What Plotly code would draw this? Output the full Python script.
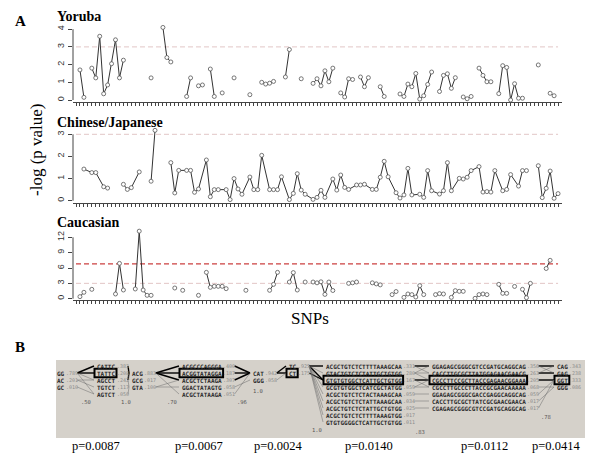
import plotly.graph_objects as go

W, H = 600, 457

# ---------------- data (panel A) ----------------
snp_ticks = list(range(0, 123))

yor_snp = [1, 2, 4, 5, 6, 7, 8, 9, 10, 11, 12, 19, 22, 23, 24, 28, 29, 31, 32, 34, 35, 37, 40, 44,
           47, 48, 49, 50, 53, 54, 57, 60, 61, 62, 63, 64, 65, 67, 68, 69, 70, 72, 73, 74, 77, 78,
           82, 83, 84, 85, 86, 87, 88, 89, 90, 92, 93, 94, 95, 96, 98, 99, 100, 102, 103, 104, 105,
           107, 108, 109, 110, 111, 112, 113, 117, 120, 121]
yor_val = [1.7, 0.15, 1.8, 1.25, 3.6, 0.35, 0.85, 2.05, 3.4, 1.25, 2.25, 1.25, 4.1, 2.4, 2.15, 0.2, 1.25,
           0.8, 0.85, 1.75, 0.2, 0.4, 1.25, 0.3, 1.0, 0.9, 0.95, 1.05, 1.3, 2.85, 1.2, 0.94, 1.2, 0.8,
           1.65, 1.03, 1.8, 0.4, 0.17, 1.2, 1.16, 1.3, 0.75, 1.26, 0.75, 0.2, 0.34, 0.2, 0.9, 0.75, 1.5,
           0.05, 0.24, 0.88, 1.58, 0.48, 1.39, 1.48, 0.66, 1.26, 0.17, 0.07, 0.2, 1.8, 1.39, 1.03, 1.03,
           0.36, 1.94, 1.84, 0.0, 0.92, 0.1, 0.1, 1.98, 0.38, 0.24]

chn_snp = [2, 4, 5, 7, 8, 12, 13, 14, 16, 19, 20, 24, 25, 26, 28, 29, 30, 31, 33, 34, 35, 36, 38, 39, 40,
           41, 42, 44, 45, 46, 47, 49, 50, 51, 52, 54, 55, 56, 57, 58, 60, 61, 62, 63, 65, 66, 67, 68,
           69, 71, 72, 73, 75, 76, 77, 78, 79, 81, 82, 83, 84, 85, 87, 88, 89, 90, 92, 93, 94, 95, 97,
           98, 99, 100, 102, 103, 104, 105, 106, 108, 109, 110, 112, 113, 114, 117, 118, 119, 120, 121, 122]
chn_val = [1.43, 1.27, 1.27, 0.63, 0.57, 0.74, 0.51, 0.59, 1.3, 0.88, 3.18, 1.72, 0.35, 1.37, 1.37, 1.37,
           0.38, 0.53, 1.84, 0.18, 0.5, 0.5, 0.5, 0.05, 1.0, 0.53, 0.29, 1.07, 0.5, 0.5, 2.05, 0.5, 0.5,
           0.5, 1.08, 0.05, 0.33, 1.22, 0.48, 0.29, 0.06, 0.15, 0.47, 0.15, 0.98, 0.48, 1.16, 0.6, 0.51,
           0.71, 0.71, 0.74, 0.51, 0.51, 1.06, 1.78, 1.08, 0.36, 0.12, 0.26, 1.46, 0.26, 0.29, 0.15, 1.36,
           0.45, 0.3, 0.45, 1.72, 0.45, 1.01, 0.98, 1.06, 1.36, 1.54, 0.39, 0.41, 0.39, 1.36, 0.45, 0.51,
           1.18, 0.66, 1.36, 1.36, 1.58, 0.14, 0.56, 1.34, 0.11, 0.32]

cau_snp = [1, 2, 4, 10, 11, 12, 15, 16, 17, 18, 19, 25, 27, 31, 33, 34, 35, 36, 37, 38, 43, 49, 50, 51,
           54, 55, 56, 58, 60, 61, 62, 63, 64, 65, 69, 70, 71, 75, 76, 77, 80, 81, 83, 84, 85, 86, 87,
           88, 91, 92, 93, 95, 96, 97, 98, 101, 102, 103, 104, 107, 108, 109, 111, 113, 114, 115, 119, 120]
cau_val = [0.4, 1.25, 1.83, 0.92, 6.9, 1.7, 1.9, 13.2, 1.7, 0.66, 0.66, 2.09, 1.64, 0.66, 5.15, 2.22,
           2.42, 2.42, 2.42, 1.96, 1.64, 1.64, 2.8, 5.15, 3.26, 5.1, 1.7, 3.26, 3.26, 3.1, 3.3, 0.84,
           3.26, 1.6, 3.0, 3.1, 3.26, 3.1, 2.9, 2.7, 0.8, 1.4, 0.26, 0.92, 0.8, 0.33, 2.55, 0.8, 0.8,
           0.99, 0.92, 0.26, 1.57, 1.44, 1.44, 0.07, 0.8, 0.92, 0.8, 2.8, 1.05, 1.05, 2.4, 1.83, 0.2,
           3.0, 5.9, 7.5]

yor_yticks = [0, 1, 2, 3, 4]
chn_yticks = [0, 1, 2, 3]
cau_yticks = [0, 3, 6, 9, 12]

grey_threshold = 3.0
red_threshold = 6.8

panel_titles = ["Yoruba", "Chinese/Japanese", "Caucasian"]

# ---------------- data (panel B) ----------------
hap_blocks = [
    ["GG", "AC", "GC"],
    ["CATTC", "TATTC", "AGCCT", "TGTCT", "AGTCT"],
    ["ACG", "GCG", "GTA"],
    ["ACGCCCAGGGA", "ACGGTATAGGA", "ACGCTCTAAGA", "GGACTATAGTG", "ACGCTATAAGA"],
    ["CAT", "GGG"],
    ["TC", "CT"],
    ["ACGCTGTCTCTTTTAAAGCAA", "GTACTGTCTCTATTGCTGTGG", "GTGTGTGGCTCATTGCTGTGG",
     "GCGTGTGGCTCATCGCTATGG", "ACGCTGTCTCTACTAAAGCAA", "ACGCTGTCTCTATTAAAGCAA",
     "ACGCTGTCTCTATTGCTGTGG", "ACGCTGTCTCTTTTAAAGTGG", "GTGTGGGGCTCATTGCTGTGG"],
    ["GGAGAGCGGGCGTCCGATGCAGGCAG", "CACCTTGCGCTTATGGAGAACGAACG", "CGCCTTCCGCTTACCGAGAACGGAAA",
     "CGCCTTGCCCTTACCGCGAACAAAAA", "GGAGAGCGGGCGACCGAGGCAGGCAG", "CACCTTGCGCTTATCGCGAACGAACA",
     "CGAGAGCGGGCGTCCGATGCAGGCAG"],
    ["CAG", "GAG", "GGT", "GGG"],
]
hap_freqs = [
    [".789", ".201", ".010"],
    [".383", ".208", ".242", ".117", ".050"],
    [".883", ".017", ".100"],
    [".400", ".187", ".307", ".058", ".051"],
    [".942", ".058"],
    [".925", ".175"],
    [".331", ".280", ".167", ".059", ".059", ".034", ".025", ".017", ".011"],
    [".356", ".263", ".205", ".068", ".059", ".017", ".017"],
    [".343", ".238", ".333", ".086"],
]
hap_boxed = [None, 1, None, 1, None, 1, 2, 2, 2]
ld_labels = [".50", "1.0", ".70", ".96", "1.0", "1.0", ".83", ".78"]
p_labels = ["p=0.0087", "p=0.0067", "p=0.0024", "p=0.0140", "p=0.0112", "p=0.0414"]

# ---------------- layout helpers ----------------
def px(x):
    return x / W


def py(y):
    return 1 - y / H


def with_breaks(xs, ys, maxgap):
    ox, oy = [], []
    prev = None
    for x, y in zip(xs, ys):
        if prev is not None and x - prev > maxgap:
            ox.append(None)
            oy.append(None)
        ox.append(x)
        oy.append(y)
        prev = x
    return ox, oy


fig = go.Figure()

series = [(yor_snp, yor_val, 1), (chn_snp, chn_val, 2), (cau_snp, cau_val, 1)]
for k, (xs, ys, gap) in enumerate(series):
    bx, by = with_breaks(xs, ys, gap)
    sfx = "" if k == 0 else str(k + 1)
    fig.add_trace(go.Scatter(
        x=bx, y=by, mode="lines+markers", xaxis="x" + sfx, yaxis="y" + sfx,
        line=dict(color="#333333", width=1),
        marker=dict(symbol="circle", size=4, color="white", line=dict(color="#555555", width=0.8)),
        showlegend=False, hoverinfo="skip", connectgaps=False, cliponaxis=False))

x_dom = [px(73), px(562)]
x_rng = [-0.76, 123.0]
# (domain top px, domain bottom px, zero px, px per unit, ticks)
panels = [
    (24, 101.7, 100.0, 17.7, yor_yticks),
    (127, 202.7, 200.7, 22.13, chn_yticks),
    (228, 300, 298.7, 5.117, cau_yticks),
]

lay = dict(width=W, height=H, autosize=False, margin=dict(l=0, r=0, t=0, b=0),
           paper_bgcolor="white", plot_bgcolor="white", showlegend=False)
shapes = []
for k, (top, bot, zero, unit, yt) in enumerate(panels):
    sfx = "" if k == 0 else str(k + 1)
    rng = [(zero - bot) / unit, (zero - top) / unit]
    lay["xaxis" + sfx] = dict(domain=x_dom, range=x_rng, anchor="y" + sfx, tickvals=snp_ticks,
                              ticks="outside", ticklen=3, tickwidth=1, tickcolor="#444",
                              showticklabels=False, showline=True, linecolor="#444", linewidth=1,
                              showgrid=False, zeroline=False, fixedrange=True)
    lay["yaxis" + sfx] = dict(domain=[py(bot), py(top)], range=rng, anchor="x" + sfx, tickvals=yt,
                              ticks="outside", ticklen=4, tickwidth=1, tickcolor="#444",
                              tickangle=-90, tickfont=dict(family="Liberation Sans", size=9, color="#333"),
                              showline=False, showgrid=False, zeroline=False, fixedrange=True)
    # R-style axis line spanning only the tick range
    shapes.append(dict(type="line", xref="x" + sfx + " domain", yref="y" + sfx, x0=0, x1=0,
                       y0=yt[0], y1=yt[-1], line=dict(color="#444", width=1)))
fig.update_layout(**lay)

annotations = []
dash = "5px,3px"
for k in range(3):
    sfx = "" if k == 0 else str(k + 1)
    shapes.append(dict(type="line", xref="x" + sfx, yref="y" + sfx, x0=0, x1=122,
                       y0=grey_threshold, y1=grey_threshold, layer="below",
                       line=dict(color="#e2c6c6", width=1, dash=dash)))
shapes.append(dict(type="line", xref="x3", yref="y3", x0=0, x1=122, y0=red_threshold, y1=red_threshold,
                   layer="below", line=dict(color="#cc4040", width=1.2, dash=dash)))

serif = "Liberation Serif"
# panel letters & titles
annotations.append(dict(x=px(13), y=py(21), xref="paper", yref="paper", text="<b>A</b>", showarrow=False,
                        xanchor="left", yanchor="middle", font=dict(family=serif, size=15, color="black")))
annotations.append(dict(x=px(13), y=py(347), xref="paper", yref="paper", text="<b>B</b>", showarrow=False,
                        xanchor="left", yanchor="middle", font=dict(family=serif, size=15, color="black")))
for title, ty in zip(panel_titles, [17, 123, 223]):
    annotations.append(dict(x=px(55), y=py(ty), xref="paper", yref="paper", text="<b>" + title + "</b>",
                            showarrow=False, xanchor="left", yanchor="middle",
                            font=dict(family=serif, size=14, color="black")))
annotations.append(dict(x=px(37), y=py(150), xref="paper", yref="paper", text="-log (p value)",
                        showarrow=False, textangle=-90, xanchor="center", yanchor="middle",
                        font=dict(family=serif, size=17, color="black")))
annotations.append(dict(x=px(310), y=py(318), xref="paper", yref="paper", text="SNPs",
                        showarrow=False, xanchor="center", yanchor="middle",
                        font=dict(family=serif, size=17, color="black")))

# ---------------- panel B drawing ----------------
shapes.append(dict(type="rect", xref="paper", yref="paper", x0=px(56), x1=px(585), y0=py(438), y1=py(360),
                   fillcolor="#d5d1ca", line=dict(width=0), layer="below"))

block_x = [57, 97, 132, 182, 253, 289, 326, 432, 557]
block_row_offset = [1, 0, 1, 0, 1, 0, 0, 0, 0]
row0_y, row_dy, cw = 366, 7, 3.6
mono = "DejaVu Sans Mono"


def row_y(b, i):
    return row0_y + row_dy * (i + block_row_offset[b])


def hap_end(b):
    return block_x[b] + cw * len(hap_blocks[b][0])


for b, haps in enumerate(hap_blocks):
    x0 = block_x[b]
    for i, h in enumerate(haps):
        yy = row_y(b, i)
        annotations.append(dict(x=px(x0 - 1.5), y=py(yy), xref="paper", yref="paper", text="<b>" + h + "</b>",
                                showarrow=False, xanchor="left", yanchor="middle", borderpad=0,
                                font=dict(family=mono, size=6, color="#2a2a2a")))
        annotations.append(dict(x=px(hap_end(b) + 0.5), y=py(yy), xref="paper", yref="paper",
                                text=hap_freqs[b][i], showarrow=False, xanchor="left", yanchor="middle",
                                borderpad=0, font=dict(family=mono, size=5, color="#8c8c8c")))
    if hap_boxed[b] is not None:
        yy = row_y(b, hap_boxed[b])
        shapes.append(dict(type="rect", xref="paper", yref="paper", x0=px(x0 - 2.5), x1=px(hap_end(b) + 1.5),
                           y0=py(yy + 4.3), y1=py(yy - 4.3), line=dict(color="black", width=2)))

# connector lines between adjacent blocks: (left row, right row, thick?)
links = [
    [(0, 0, 1), (0, 1, 1), (0, 2, 0), (1, 2, 0), (1, 3, 0), (0, 4, 0), (2, 4, 0)],
    [(0, 0, 1), (1, 0, 1), (2, 0, 1), (3, 2, 0), (2, 2, 0), (4, 2, 0), (1, 1, 0)],
    [(0, 0, 1), (0, 1, 1), (0, 2, 1), (2, 3, 0), (0, 4, 0), (2, 2, 0)],
    [(0, 0, 1), (1, 0, 1), (2, 0, 1), (3, 1, 0), (4, 0, 0)],
    [(0, 0, 1), (0, 1, 1), (1, 1, 0)],
    [(0, 0, 1), (0, 2, 1), (1, 2, 1), (0, 1, 0), (0, 3, 0), (0, 4, 0), (0, 5, 0), (0, 6, 0), (0, 7, 0),
     (0, 8, 0)],
    [(0, 0, 1), (1, 1, 0), (0, 1, 0), (1, 0, 0), (2, 2, 1), (1, 2, 0), (3, 3, 0), (4, 4, 0), (5, 5, 0),
     (6, 6, 0), (3, 2, 0), (2, 3, 0)],
    [(0, 0, 1), (1, 1, 1), (2, 2, 1), (0, 1, 0), (1, 0, 0), (3, 3, 0), (4, 2, 0), (5, 3, 0), (6, 2, 0)],
]
for b, lk in enumerate(links):
    xl = hap_end(b) + 0.5 + 3.0 * 4 + 0.5
    xr = block_x[b + 1] - 3
    for i, j, thick in lk:
        shapes.append(dict(type="line", xref="paper", yref="paper", x0=px(xl), x1=px(xr),
                           y0=py(row_y(b, i)), y1=py(row_y(b + 1, j)),
                           line=dict(color="black" if thick else "#6a6a6a", width=1.4 if thick else 0.5)))

ld_pos = [(86, 402), (126, 402), (172, 402), (242, 402), (258, 391), (317, 430), (420, 432), (546, 417)]
for lab, (lx, ly) in zip(ld_labels, ld_pos):
    annotations.append(dict(x=px(lx), y=py(ly), xref="paper", yref="paper", text=lab, showarrow=False,
                            xanchor="center", yanchor="middle", font=dict(family=mono, size=5.5, color="#555")))

p_x = [96, 199, 278, 369, 484, 556]
for lab, xx in zip(p_labels, p_x):
    annotations.append(dict(x=px(xx), y=py(446), xref="paper", yref="paper", text=lab, showarrow=False,
                            xanchor="center", yanchor="middle", font=dict(family=serif, size=12.5, color="black")))

fig.update_layout(shapes=shapes, annotations=annotations)
fig.write_html("out.html", config={"displayModeBar": False},
               post_script="document.body.style.margin='0';document.body.style.padding='0';"
                           "document.body.style.overflow='hidden';")
